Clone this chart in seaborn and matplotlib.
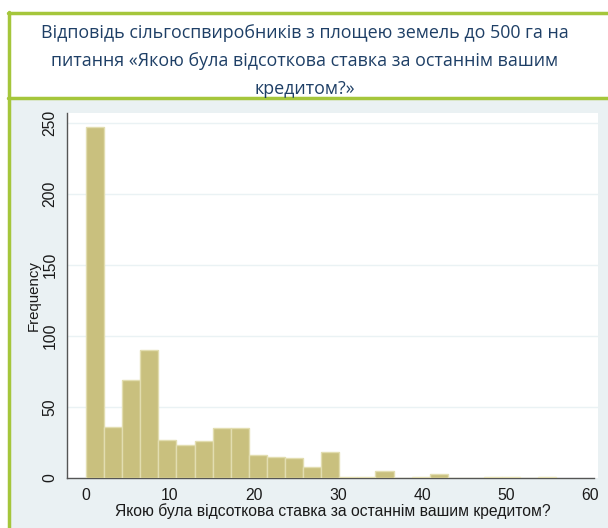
import matplotlib
matplotlib.use("Agg")
import matplotlib.pyplot as plt
from matplotlib.patches import Rectangle
from matplotlib.lines import Line2D
import numpy as np
import pandas as pd
import seaborn as sns

# histogram: 26 equal bins from 0 to 56
bin_lo = 0
bin_hi = 56
n_bins = 26
counts = [247, 36, 69, 90, 27, 23, 26, 35, 35, 16, 15, 14, 8,
          18, 1, 1, 5, 0, 1, 3, 0, 0, 1, 1, 0, 1]

x_ticks = [0, 10, 20, 30, 40, 50, 60]
y_ticks = [0, 50, 100, 150, 200, 250]

title = ("Відповідь сільгоспвиробників з площею земель до 500 га на\n"
         "питання «Якою була відсоткова ставка за останнім вашим\n"
         "кредитом?»")
x_label = "Якою була відсоткова ставка за останнім вашим кредитом?"
y_label = "Frequency"

sns.set_style("white")
plt.rcParams["font.family"] = ["Liberation Sans", "DejaVu Sans"]

W, H = 608, 528
fig = plt.figure(figsize=(W / 100, H / 100), dpi=100)

green = "#A5C63B"
panel_bg = "#EAF1F3"

# title box and lower panel backgrounds
fig.patches.append(Rectangle((9 / W, 0), 1, (H - 98) / H, transform=fig.transFigure,
                             facecolor=panel_bg, edgecolor="none", zorder=-2))
fig.patches.append(Rectangle((9 / W, (H - 98) / H), 1, 86 / H, transform=fig.transFigure,
                             facecolor="white", edgecolor="none", zorder=-2))
for line in [
    Line2D([8 / W, 1], [(H - 12.5) / H] * 2),
    Line2D([8 / W, 1], [(H - 98) / H] * 2),
    Line2D([9 / W] * 2, [0, (H - 12) / H]),
]:
    line.set_transform(fig.transFigure)
    line.set_color(green)
    line.set_linewidth(2.5)
    line.set_zorder(-1)
    fig.lines.append(line)

fig.text(305 / W, (H - 61) / H, title, ha="center", va="center",
         fontsize=12.9, color="#1E3F66", linespacing=1.72,
         family=["Open Sans", "DejaVu Sans"])

ax = fig.add_axes([67 / W, (H - 478) / H, (598 - 67) / W, (478 - 113) / H])
ax.set_facecolor("white")

edges = np.linspace(bin_lo, bin_hi, n_bins + 1)
df = pd.DataFrame({"rate": (edges[:-1] + edges[1:]) / 2, "n": counts})
sns.histplot(data=df, x="rate", weights="n", bins=list(edges), ax=ax,
             color="#C9C07E", edgecolor="#E2DDB0", linewidth=1.0, alpha=1.0,
             zorder=3)

ax.set_xlim(-2.26, 60.95)
ax.set_ylim(0, 256.8)
ax.set_xticks(x_ticks)
ax.set_yticks(y_ticks)
ax.set_yticklabels([str(v) for v in y_ticks], rotation=90, va="center")
for v in y_ticks[1:]:
    ax.axhline(v, color="#EAF2F4", lw=1.0, zorder=1)

for side in ["top", "right"]:
    ax.spines[side].set_visible(False)
for side in ["left", "bottom"]:
    ax.spines[side].set_color("#555555")
    ax.spines[side].set_linewidth(1.0)
ax.spines["bottom"].set_bounds(-2.26, 60.5)

ax.tick_params(axis="both", direction="out", length=5, width=1.0,
               color="#555555", labelsize=11.3, labelcolor="#1a1a1a", pad=2)
ax.set_xlabel(x_label, fontsize=11.3, color="#1a1a1a", labelpad=0)
ax.set_ylabel(y_label, fontsize=10.8, color="#1a1a1a", labelpad=1)

fig.savefig("out.png", dpi=100)
